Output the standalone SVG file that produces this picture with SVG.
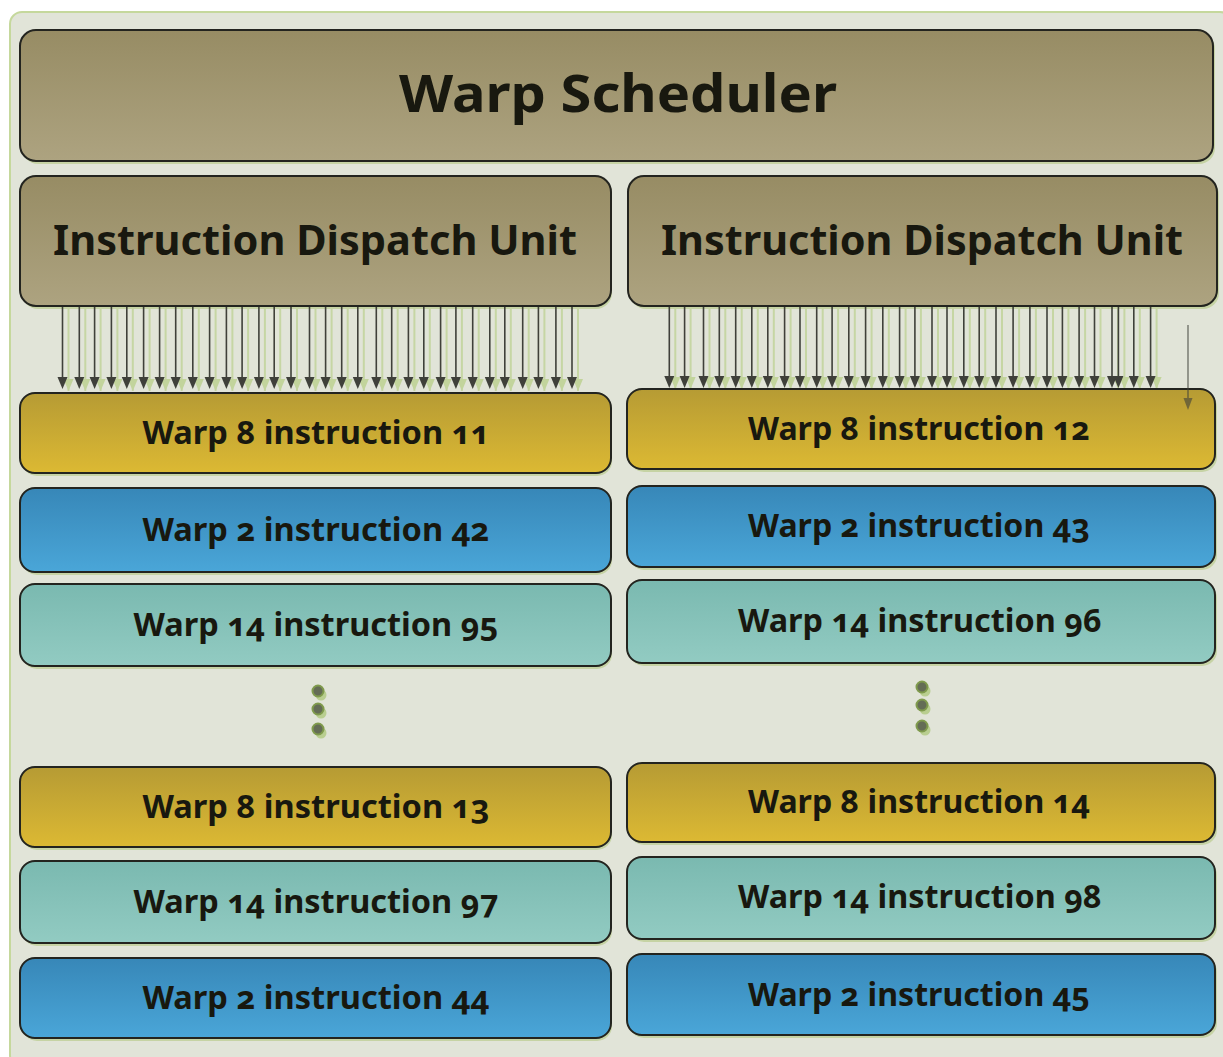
<svg xmlns="http://www.w3.org/2000/svg" xmlns:xlink="http://www.w3.org/1999/xlink" width="1223" height="1057" viewBox="0 0 1223 1057">
  <defs>
    <linearGradient id="gTan" x1="0" y1="0" x2="0" y2="1">
      <stop offset="0" stop-color="#978c64"/>
      <stop offset="1" stop-color="#ada380"/>
    </linearGradient>
    <linearGradient id="gYel" x1="0" y1="0" x2="0" y2="1">
      <stop offset="0" stop-color="#b69b34"/>
      <stop offset="1" stop-color="#dcb933"/>
    </linearGradient>
    <linearGradient id="gBlu" x1="0" y1="0" x2="0" y2="1">
      <stop offset="0" stop-color="#3787b8"/>
      <stop offset="1" stop-color="#4aa6d8"/>
    </linearGradient>
    <linearGradient id="gTea" x1="0" y1="0" x2="0" y2="1">
      <stop offset="0" stop-color="#7ab9b0"/>
      <stop offset="1" stop-color="#92cbc2"/>
    </linearGradient>
    <marker id="headShadow" viewBox="0 0 10 12" refX="5" refY="12" markerWidth="10" markerHeight="12" markerUnits="userSpaceOnUse">
      <path d="M0,0 L10,0 L5,12 Z" fill="#c2d49c"/>
    </marker>
    <!-- one dispatch arrow with its soft green shadow -->
    <g id="arrL">
      <line x1="6" y1="309" x2="6" y2="391" class="shadow" marker-end="url(#headShadow)"/>
      <line x1="0" y1="307" x2="0" y2="377" class="wire"/>
      <path d="M-5,377 L5,377 L0,389 Z" class="tip"/>
    </g>
    <g id="arrR">
      <line x1="6" y1="309" x2="6" y2="389" class="shadow" marker-end="url(#headShadow)"/>
      <line x1="0" y1="307" x2="0" y2="376" class="wire"/>
      <path d="M-5,376 L5,376 L0,388 Z" class="tip"/>
    </g>
    <!-- one ellipsis dot with its shadow -->
    <g id="dot">
      <circle class="dotShadow" cx="3" cy="4" r="5.5"/>
      <circle class="dotBody" cx="0" cy="0" r="5.5"/>
    </g>
  </defs>
  <style>
    .box { stroke: #23241f; stroke-width: 2; }
    .drop { fill: #bccd93; opacity: 0.75; }
    .tan { fill: url(#gTan); }
    .yel { fill: url(#gYel); }
    .blu { fill: url(#gBlu); }
    .tea { fill: url(#gTea); }
    .wire { stroke: #3f403a; stroke-width: 1.6; }
    .tip { fill: #3f403a; }
    .shadow { stroke: #c6d6a4; stroke-width: 2; }
    text { font-family: "Noto Sans", "Open Sans", "DejaVu Sans", sans-serif; font-weight: bold; fill: #18180f; text-anchor: middle; font-variant-numeric: oldstyle-nums; }
    .title { font-size: 52px; }
    .unit { font-size: 42px; }
    .row { font-size: 32px; }
    .dotBody { fill: #646c55; stroke: #7f9a4c; stroke-width: 2; }
    .dotShadow { fill: #b9ce90; }
  </style>

  <!-- background panel -->
  <rect x="0" y="0" width="1223" height="1057" fill="#ffffff"/>
  <rect id="panel" x="10" y="12" width="1222" height="1055" rx="12" fill="#e1e4d8" stroke="#c5d89c" stroke-width="2"/>

  <!-- scheduler -->
  <g id="warp-scheduler">
    <rect class="drop" x="22" y="33" width="1193" height="131" rx="16"/>
    <rect class="box tan" x="20" y="30" width="1193" height="131" rx="16"/>
    <text class="title" x="618" y="112" textLength="438" lengthAdjust="spacingAndGlyphs">Warp Scheduler</text>
  </g>

  <!-- dispatch units -->
  <g id="dispatch-left">
    <rect class="drop" x="22" y="179" width="590" height="130" rx="16"/>
    <rect class="box tan" x="20" y="176" width="591" height="130" rx="16"/>
    <text class="unit" x="315" y="255" textLength="524" lengthAdjust="spacingAndGlyphs">Instruction Dispatch Unit</text>
  </g>
  <g id="dispatch-right">
    <rect class="drop" x="630" y="179" width="589" height="130" rx="16"/>
    <rect class="box tan" x="628" y="176" width="589" height="130" rx="16"/>
    <text class="unit" x="922" y="255" textLength="522" lengthAdjust="spacingAndGlyphs">Instruction Dispatch Unit</text>
  </g>

  <!-- dispatch arrows -->
  <g id="connectors">
    <use xlink:href="#arrL" x="62.5"/><use xlink:href="#arrL" x="79.3"/><use xlink:href="#arrL" x="94.6"/><use xlink:href="#arrL" x="111.4"/>
    <use xlink:href="#arrL" x="126.8"/><use xlink:href="#arrL" x="143.6"/><use xlink:href="#arrL" x="159.6"/><use xlink:href="#arrL" x="175.7"/>
    <use xlink:href="#arrL" x="192.8"/><use xlink:href="#arrL" x="209.6"/><use xlink:href="#arrL" x="226.4"/><use xlink:href="#arrL" x="242.1"/>
    <use xlink:href="#arrL" x="258.9"/><use xlink:href="#arrL" x="274.2"/><use xlink:href="#arrL" x="291"/><use xlink:href="#arrL" x="309.5"/>
    <use xlink:href="#arrL" x="325.6"/><use xlink:href="#arrL" x="341.7"/><use xlink:href="#arrL" x="357.8"/><use xlink:href="#arrL" x="376.3"/>
    <use xlink:href="#arrL" x="391.7"/><use xlink:href="#arrL" x="408.4"/><use xlink:href="#arrL" x="423.8"/><use xlink:href="#arrL" x="440.6"/>
    <use xlink:href="#arrL" x="455.9"/><use xlink:href="#arrL" x="472.7"/><use xlink:href="#arrL" x="489.8"/><use xlink:href="#arrL" x="504.8"/>
    <use xlink:href="#arrL" x="522.7"/><use xlink:href="#arrL" x="538.4"/><use xlink:href="#arrL" x="555.9"/><use xlink:href="#arrL" x="572"/>

    <use xlink:href="#arrR" x="669.3"/><use xlink:href="#arrR" x="684.6"/><use xlink:href="#arrR" x="703.5"/><use xlink:href="#arrR" x="719.3"/>
    <use xlink:href="#arrR" x="735.7"/><use xlink:href="#arrR" x="751.8"/><use xlink:href="#arrR" x="767.8"/><use xlink:href="#arrR" x="784.6"/>
    <use xlink:href="#arrR" x="800"/><use xlink:href="#arrR" x="816.7"/><use xlink:href="#arrR" x="832.1"/><use xlink:href="#arrR" x="848.8"/>
    <use xlink:href="#arrR" x="865.6"/><use xlink:href="#arrR" x="882.8"/><use xlink:href="#arrR" x="899.6"/><use xlink:href="#arrR" x="914.9"/>
    <use xlink:href="#arrR" x="932"/><use xlink:href="#arrR" x="947"/><use xlink:href="#arrR" x="963.8"/><use xlink:href="#arrR" x="979.2"/>
    <use xlink:href="#arrR" x="996"/><use xlink:href="#arrR" x="1013.1"/><use xlink:href="#arrR" x="1029.9"/><use xlink:href="#arrR" x="1047"/>
    <use xlink:href="#arrR" x="1062.4"/><use xlink:href="#arrR" x="1079.1"/><use xlink:href="#arrR" x="1094.5"/><use xlink:href="#arrR" x="1112"/>
    <use xlink:href="#arrR" x="1118.4"/><use xlink:href="#arrR" x="1133.8"/><use xlink:href="#arrR" x="1150.6"/>
  </g>

  <!-- left issue slots -->
  <g id="left-w8-i11">
    <rect class="drop" x="22" y="396" width="590" height="80" rx="15"/>
    <rect class="box yel" x="20" y="393" width="591" height="80" rx="15"/>
    <text class="row" x="316" y="444" textLength="347" lengthAdjust="spacingAndGlyphs">Warp 8 instruction 11</text>
  </g>
  <g id="left-w2-i42">
    <rect class="drop" x="22" y="491" width="590" height="84" rx="15"/>
    <rect class="box blu" x="20" y="488" width="591" height="84" rx="15"/>
    <text class="row" x="316" y="541" textLength="347" lengthAdjust="spacingAndGlyphs">Warp 2 instruction 42</text>
  </g>
  <g id="left-w14-i95">
    <rect class="drop" x="22" y="587" width="590" height="82" rx="15"/>
    <rect class="box tea" x="20" y="584" width="591" height="82" rx="15"/>
    <text class="row" x="316" y="636" textLength="365" lengthAdjust="spacingAndGlyphs">Warp 14 instruction 95</text>
  </g>
  <g id="left-ellipsis">
    <use xlink:href="#dot" x="318" y="691"/>
    <use xlink:href="#dot" x="318" y="709"/>
    <use xlink:href="#dot" x="318" y="729"/>
  </g>
  <g id="left-w8-i13">
    <rect class="drop" x="22" y="770" width="590" height="80" rx="15"/>
    <rect class="box yel" x="20" y="767" width="591" height="80" rx="15"/>
    <text class="row" x="316" y="818" textLength="347" lengthAdjust="spacingAndGlyphs">Warp 8 instruction 13</text>
  </g>
  <g id="left-w14-i97">
    <rect class="drop" x="22" y="864" width="590" height="82" rx="15"/>
    <rect class="box tea" x="20" y="861" width="591" height="82" rx="15"/>
    <text class="row" x="316" y="913" textLength="365" lengthAdjust="spacingAndGlyphs">Warp 14 instruction 97</text>
  </g>
  <g id="left-w2-i44">
    <rect class="drop" x="22" y="961" width="590" height="80" rx="15"/>
    <rect class="box blu" x="20" y="958" width="591" height="80" rx="15"/>
    <text class="row" x="316" y="1009" textLength="347" lengthAdjust="spacingAndGlyphs">Warp 2 instruction 44</text>
  </g>

  <!-- right issue slots -->
  <g id="right-w8-i12">
    <rect class="drop" x="629" y="392" width="588" height="80" rx="15"/>
    <rect class="box yel" x="627" y="389" width="588" height="80" rx="15"/>
    <text class="row" x="919" y="440" textLength="342" lengthAdjust="spacingAndGlyphs">Warp 8 instruction 12</text>
  </g>
  <g id="right-w2-i43">
    <rect class="drop" x="629" y="489" width="588" height="81" rx="15"/>
    <rect class="box blu" x="627" y="486" width="588" height="81" rx="15"/>
    <text class="row" x="919" y="537" textLength="342" lengthAdjust="spacingAndGlyphs">Warp 2 instruction 43</text>
  </g>
  <g id="right-w14-i96">
    <rect class="drop" x="629" y="583" width="588" height="83" rx="15"/>
    <rect class="box tea" x="627" y="580" width="588" height="83" rx="15"/>
    <text class="row" x="920" y="632" textLength="364" lengthAdjust="spacingAndGlyphs">Warp 14 instruction 96</text>
  </g>
  <g id="right-ellipsis">
    <use xlink:href="#dot" x="922" y="687"/>
    <use xlink:href="#dot" x="922" y="705"/>
    <use xlink:href="#dot" x="922" y="726"/>
  </g>
  <g id="right-w8-i14">
    <rect class="drop" x="629" y="766" width="588" height="79" rx="15"/>
    <rect class="box yel" x="627" y="763" width="588" height="79" rx="15"/>
    <text class="row" x="919" y="813" textLength="342" lengthAdjust="spacingAndGlyphs">Warp 8 instruction 14</text>
  </g>
  <g id="right-w14-i98">
    <rect class="drop" x="629" y="860" width="588" height="82" rx="15"/>
    <rect class="box tea" x="627" y="857" width="588" height="82" rx="15"/>
    <text class="row" x="920" y="908" textLength="364" lengthAdjust="spacingAndGlyphs">Warp 14 instruction 98</text>
  </g>
  <g id="right-w2-i45">
    <rect class="drop" x="629" y="957" width="588" height="81" rx="15"/>
    <rect class="box blu" x="627" y="954" width="588" height="81" rx="15"/>
    <text class="row" x="919" y="1006" textLength="342" lengthAdjust="spacingAndGlyphs">Warp 2 instruction 45</text>
  </g>

  <!-- faint extra arrow on the right edge, drawn over the first slot -->
  <g id="right-stray-arrow" opacity="0.6">
    <line x1="1188" y1="325" x2="1188" y2="398" class="wire" stroke-width="1.4"/>
    <path d="M1183.5,398 L1192.5,398 L1188,410 Z" class="tip"/>
  </g>
</svg>
